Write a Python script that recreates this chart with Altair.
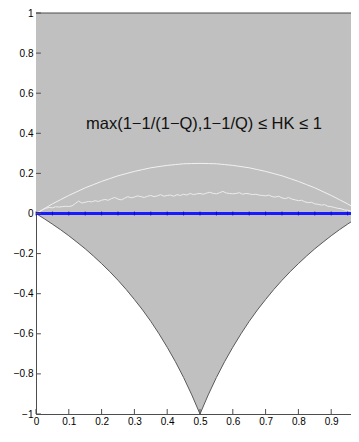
import altair as alt
import pandas as pd

# Boundary grid (Q) and values
Q_GRID = [0.0, 0.025, 0.05, 0.075, 0.1, 0.125, 0.15, 0.175, 0.2, 0.225, 0.25,
          0.275, 0.3, 0.325, 0.35, 0.375, 0.4, 0.425, 0.45, 0.475, 0.5,
          0.525, 0.55, 0.575, 0.6, 0.625, 0.65, 0.675, 0.7, 0.725, 0.75,
          0.775, 0.8, 0.825, 0.85, 0.875, 0.9, 0.925, 0.95, 0.975, 1.0]
LOWER = [0.0, -0.026, -0.053, -0.081, -0.111, -0.143, -0.176, -0.212, -0.25, -0.29, -0.333,
         -0.379, -0.429, -0.481, -0.538, -0.6, -0.667, -0.739, -0.818, -0.905, -1.0,
         -0.905, -0.818, -0.739, -0.667, -0.6, -0.538, -0.481, -0.429, -0.379, -0.333,
         -0.29, -0.25, -0.212, -0.176, -0.143, -0.111, -0.081, -0.053, -0.026, 0.0]
ARC = [0.0, 0.024, 0.048, 0.069, 0.09, 0.109, 0.128, 0.144, 0.16, 0.174, 0.188,
       0.199, 0.21, 0.219, 0.228, 0.234, 0.24, 0.244, 0.248, 0.249, 0.25,
       0.249, 0.248, 0.244, 0.24, 0.234, 0.228, 0.219, 0.21, 0.199, 0.188,
       0.174, 0.16, 0.144, 0.128, 0.109, 0.09, 0.069, 0.048, 0.024, 0.0]
UPPER = [1.0] * len(Q_GRID)

# Noisy estimate curve
Q_NOISY = [round(i * 0.01, 2) for i in range(101)]
HK_NOISY = [0.0, 0.008, 0.018, 0.026, 0.03, 0.028, 0.034, 0.032, 0.034, 0.036,
            0.035, 0.038, 0.05, 0.062, 0.052, 0.056, 0.06, 0.058, 0.064, 0.06,
            0.066, 0.07, 0.066, 0.074, 0.08, 0.072, 0.068, 0.076, 0.084, 0.078,
            0.082, 0.088, 0.084, 0.08, 0.086, 0.09, 0.084, 0.088, 0.094, 0.086,
            0.09, 0.092, 0.086, 0.094, 0.09, 0.096, 0.092, 0.1, 0.094, 0.098,
            0.1, 0.096, 0.102, 0.106, 0.1, 0.098, 0.104, 0.11, 0.102, 0.1,
            0.098, 0.1, 0.104, 0.096, 0.1, 0.098, 0.094, 0.096, 0.092, 0.09,
            0.088, 0.092, 0.084, 0.082, 0.086, 0.078, 0.074, 0.08, 0.072, 0.068,
            0.064, 0.066, 0.058, 0.054, 0.056, 0.048, 0.046, 0.042, 0.044, 0.036,
            0.034, 0.03, 0.026, 0.024, 0.018, 0.016, 0.012, 0.008, 0.006, 0.003, 0.0]

# Blue baseline points
Q_BLUE = [round(i * 0.05, 2) for i in range(21)]
HK_BLUE = [0.0] * len(Q_BLUE)

X_TICKS = [0.0, 0.1, 0.2, 0.3, 0.4, 0.5, 0.6, 0.7, 0.8, 0.9]
Y_TICKS = [-1.0, -0.8, -0.6, -0.4, -0.2, 0.0, 0.2, 0.4, 0.6, 0.8, 1.0]

LABEL = "max(1\u22121/(1\u2212Q),1\u22121/Q) \u2264 HK \u2264 1"

bounds = pd.DataFrame({"Q": Q_GRID, "lower": LOWER, "upper": UPPER, "arc": ARC})
noisy = pd.DataFrame({"Q": Q_NOISY, "hk": HK_NOISY})
blue = pd.DataFrame({"Q": Q_BLUE, "hk": HK_BLUE})
xt = pd.DataFrame({"Q": X_TICKS, "a": [-1.0] * len(X_TICKS), "b": [-0.975] * len(X_TICKS)})
yt = pd.DataFrame({"hk": Y_TICKS, "a": [0.0] * len(Y_TICKS), "b": [0.015] * len(Y_TICKS)})
top = pd.DataFrame({"Q": [0.0], "x1": [1.0], "hk": [1.0]})
lab = pd.DataFrame({"Q": [0.512], "hk": [0.445], "t": [LABEL]})

# x scale spans a little wider than the visible area (right edge cut as in the reference)
xs = alt.Scale(domain=[0, 1], nice=False, zero=False, range=[0, 328])
ys = alt.Scale(domain=[-1, 1], nice=False, zero=False)
ax_x = alt.Axis(values=X_TICKS, format=".1~f", ticks=False, grid=False, labelPadding=2,
                labelFontSize=10, labelColor="#000", domainColor="#4d4d4d", title=None,
                labelFont="Liberation Sans", labelOverlap=False, labelFlush=False,
                tickCount=10)
ax_y = alt.Axis(values=Y_TICKS, format=".1~f", ticks=False, grid=False, labelPadding=3,
                labelFontSize=10, labelColor="#000", domainColor="#4d4d4d", title=None,
                labelFont="Liberation Sans", labelOverlap=False, labelFlush=False)


def X(f):
    return alt.X(f, scale=xs, axis=ax_x)


def Y(f):
    return alt.Y(f, scale=ys, axis=ax_y)


area = alt.Chart(bounds).mark_area(color="#c0c0c0", opacity=1).encode(
    x=X("Q:Q"), y=Y("lower:Q"), y2="upper:Q")
edge = alt.Chart(bounds).mark_line(color="#5a5a5a", strokeWidth=1).encode(
    x=X("Q:Q"), y=Y("lower:Q"))
arc = alt.Chart(bounds).mark_line(color="#f2f2f2", strokeWidth=1).encode(
    x=X("Q:Q"), y=Y("arc:Q"))
noise = alt.Chart(noisy).mark_line(color="#ececec", strokeWidth=1).encode(
    x=X("Q:Q"), y=Y("hk:Q"))
bline = alt.Chart(blue).mark_line(color="#1a1aff", strokeWidth=3).encode(
    x=X("Q:Q"), y=Y("hk:Q"))
bmark = alt.Chart(blue).mark_tick(color="#0000a8", orient="vertical", size=4, thickness=1).encode(
    x=X("Q:Q"), y=Y("hk:Q"))
xtick = alt.Chart(xt).mark_rule(color="#4d4d4d").encode(x=X("Q:Q"), y=Y("a:Q"), y2="b:Q")
ytick = alt.Chart(yt).mark_rule(color="#4d4d4d").encode(y=Y("hk:Q"), x=X("a:Q"), x2="b:Q")
topline = alt.Chart(top).mark_rule(color="#4d4d4d").encode(x=X("Q:Q"), x2="x1:Q", y=Y("hk:Q"))
text = alt.Chart(lab).mark_text(fontSize=16.5, font="Liberation Sans", color="#111",
                                baseline="middle", align="center").encode(
    x=X("Q:Q"), y=Y("hk:Q"), text="t:N")

chart = alt.layer(area, edge, arc, noise, bline, bmark, xtick, ytick, topline, text).properties(
    width=315, height=401,
    autosize=alt.AutoSizeParams(type="none"),
    padding={"left": 28, "top": 5, "right": 0, "bottom": 13},
).configure_view(stroke=None).configure_axis(labelOverlap=False).configure(background="white")

chart.save("out.html", embed_options={"renderer": "svg", "actions": False})
